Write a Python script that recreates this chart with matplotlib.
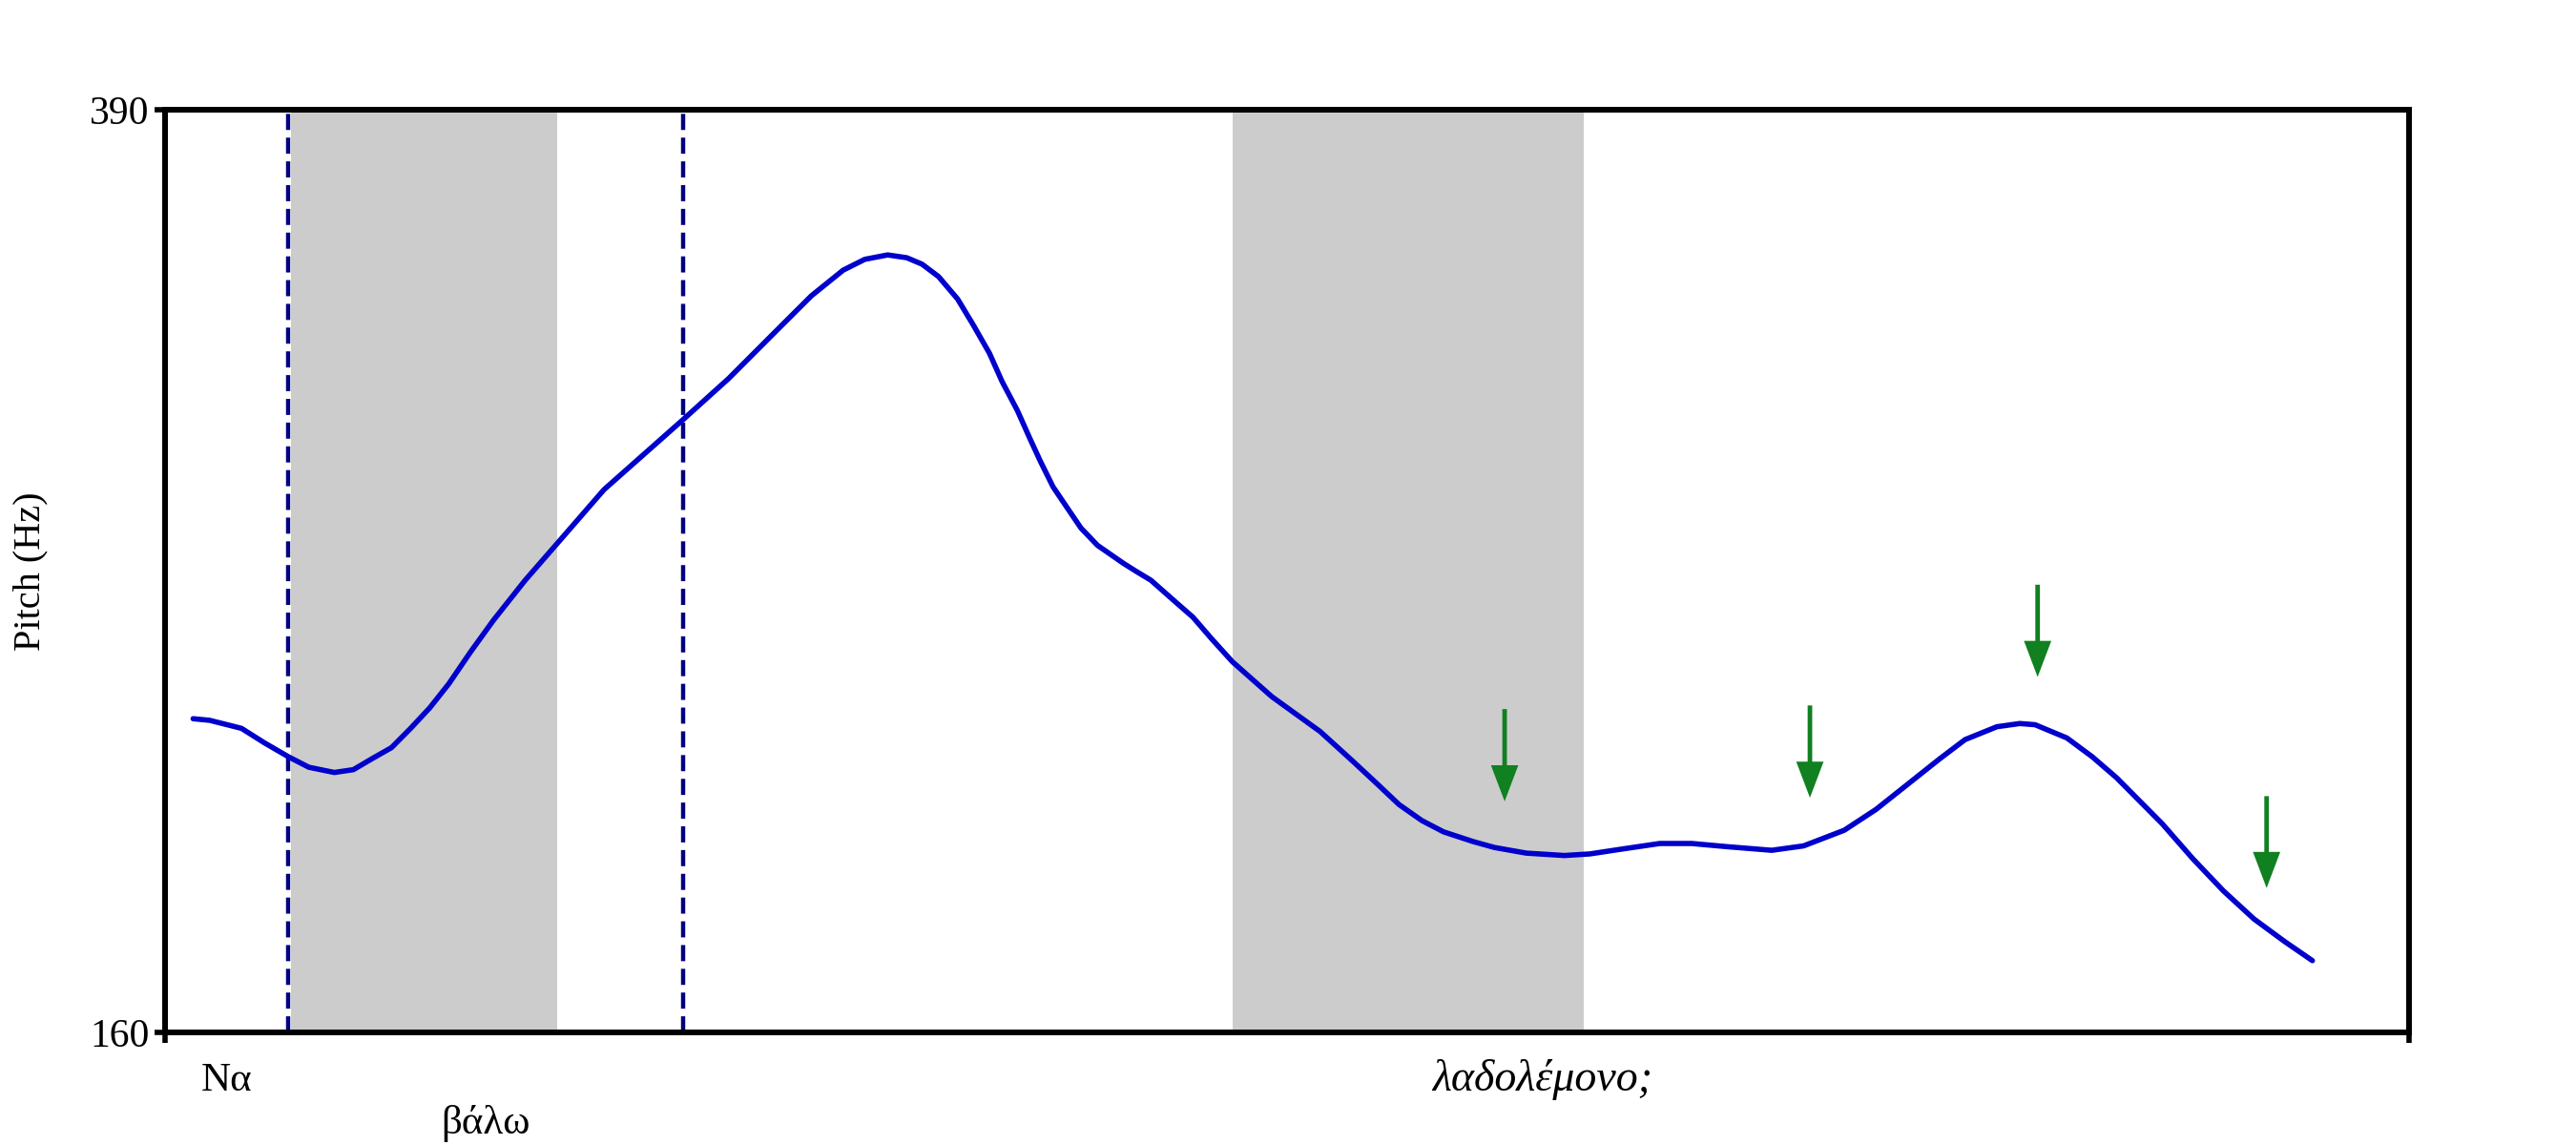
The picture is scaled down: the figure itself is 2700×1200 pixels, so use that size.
import matplotlib
matplotlib.use('Agg')
import matplotlib.pyplot as plt
from matplotlib.transforms import blended_transform_factory

# pitch contour (time in s, pitch in Hz)
time = [0.022, 0.035, 0.060, 0.078, 0.097, 0.113, 0.133, 0.148, 0.163, 0.178,
        0.193, 0.208, 0.223, 0.240, 0.258, 0.283, 0.308, 0.345, 0.407, 0.443,
        0.483, 0.508, 0.533, 0.550, 0.568, 0.583, 0.595, 0.608, 0.623, 0.635,
        0.648, 0.658, 0.670, 0.680, 0.688, 0.698, 0.708, 0.720, 0.733, 0.753,
        0.763, 0.775, 0.795, 0.808, 0.823, 0.839, 0.870, 0.908, 0.933, 0.953,
        0.970, 0.988, 1.005, 1.028, 1.045, 1.070, 1.100, 1.120, 1.145, 1.175,
        1.200, 1.228, 1.263, 1.288, 1.320, 1.345, 1.370, 1.395, 1.415, 1.440,
        1.458, 1.470, 1.495, 1.515, 1.534, 1.570, 1.594, 1.618, 1.642, 1.666,
        1.688]
pitch = [238.2, 237.8, 235.8, 232.2, 228.7, 226.1, 224.8, 225.5, 228.3, 231.0,
         235.8, 240.9, 246.9, 254.8, 262.7, 272.7, 281.8, 295.3, 312.7, 323.0,
         335.7, 343.6, 350.0, 352.7, 353.8, 353.1, 351.5, 348.4, 342.8, 336.5,
         329.3, 322.2, 315.0, 307.9, 302.4, 296.0, 291.3, 285.7, 281.4, 277.0,
         275.0, 272.7, 267.1, 263.5, 258.0, 252.4, 243.7, 235.0, 227.8, 221.9,
         216.8, 212.8, 210.0, 207.6, 206.1, 204.7, 204.1, 204.5, 205.7, 207.1,
         207.1, 206.3, 205.4, 206.5, 210.4, 215.6, 221.9, 228.2, 233.0, 236.2,
         237.0, 236.7, 233.4, 228.7, 223.5, 212.0, 203.3, 195.3, 188.3, 182.7,
         177.9]

# stressed syllables (shaded) and word boundaries (dashed)
shade_start = [0.099, 0.839]
shade_end = [0.308, 1.115]
boundaries = [0.097, 0.407]

# green arrows: x, top, tip
arrow_x = [1.053, 1.293, 1.472, 1.652]
arrow_top = [240.6, 241.5, 271.6, 218.9]
arrow_tip = [217.6, 218.5, 248.6, 196.0]

words = ['Να', 'βάλω', 'λαδολέμονο;']
word_x = [0.048, 0.252, 1.083]
word_y = [0.0475, 0.01, 0.0475]
word_size = [31, 31, 33]
word_style = ['normal', 'normal', 'italic']

t_end = 1.764
y_min, y_max = 160, 390

plt.rcParams['font.family'] = ['Liberation Serif', 'DejaVu Serif']

fig = plt.figure(figsize=(27, 12), dpi=100)
ax = fig.add_axes([0.0641, 0.0983, 0.9352 - 0.0641, 0.9042 - 0.0983])

for s, e in zip(shade_start, shade_end):
    ax.axvspan(s, e, color='#cccccc', lw=0, zorder=0)
for b in boundaries:
    ax.axvline(b, color='#000080', lw=3.2, dashes=(3.8, 1.8), zorder=1)

ax.plot(time, pitch, color='#0000cc', lw=4, zorder=3,
        solid_joinstyle='round', solid_capstyle='round')

for x, top, tip in zip(arrow_x, arrow_top, arrow_tip):
    ax.arrow(x, top, 0, tip - top, width=0.0036, head_width=0.0215,
             head_length=9.0, length_includes_head=True,
             color='#108020', lw=0, zorder=4)

ax.set_xlim(0, t_end)
ax.set_ylim(y_min, y_max)
ax.set_xticks([0, t_end])
ax.set_xticklabels(['', ''])
ax.set_yticks([y_min, y_max])
ax.set_yticklabels([str(y_min), str(y_max)])
ax.tick_params(axis='both', direction='out', length=8, width=4, labelsize=30, pad=4)
for sp in ax.spines.values():
    sp.set_linewidth(4.3)
    sp.set_color('black')

ax.set_ylabel('Pitch (Hz)', fontsize=29)
ax.yaxis.set_label_coords(-0.0523, 0.5)

trans = blended_transform_factory(ax.transData, fig.transFigure)
for w, x, y, fs, st in zip(words, word_x, word_y, word_size, word_style):
    ax.text(x, y, w, transform=trans, ha='center', va='baseline',
            fontsize=fs, style=st)

fig.savefig('out.png', dpi=100)
